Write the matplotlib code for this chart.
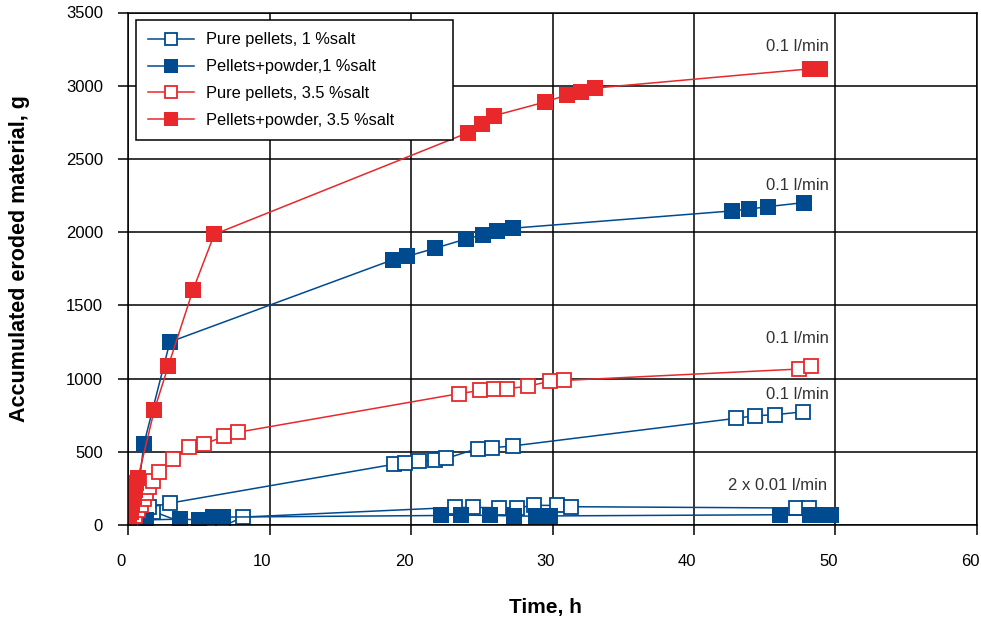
import matplotlib
matplotlib.use('Agg')
import matplotlib.pyplot as plt
import matplotlib.transforms as mtransforms

plt.rcParams['font.family'] = ['Liberation Sans', 'DejaVu Sans']

BLUE = '#004A8F'
RED = '#E8282B'

# ---- data (time in h, accumulated eroded material in g) ----
# Pure pellets, 1 %salt, 0.1 l/min
pure1_x = [0, 0.3, 0.8, 1.5, 3.0, 18.8, 19.6, 20.6, 21.7, 22.5, 24.7, 25.7, 27.2, 43.0, 44.3, 45.7, 47.7]
pure1_y = [0, 40, 80, 120, 150, 415, 425, 435, 445, 455, 522, 527, 540, 729, 746, 753, 773]
# Pure pellets, 1 %salt, 2 x 0.01 l/min
pure1_low_x = [0, 0.8, 1.8, 5.0, 6.7, 8.1, 23.1, 24.4, 26.2, 27.5, 28.7, 30.3, 31.3, 47.2, 48.1]
pure1_low_y = [0, 90, 92, -25, -10, 54, 120, 120, 118, 118, 134, 134, 125, 116, 116]

# Pellets+powder, 1 %salt, 0.1 l/min
pp1_x = [0, 0.1, 0.3, 0.5, 0.7, 1.13, 2.96, 18.7, 19.7, 21.7, 23.9, 25.1, 26.1, 27.2, 42.7, 43.9, 45.2, 47.8]
pp1_y = [0, 30, 80, 150, 220, 556, 1250, 1811, 1834, 1890, 1954, 1982, 2009, 2027, 2145, 2157, 2174, 2202]
# Pellets+powder, 1 %salt, 2 x 0.01 l/min
pp1_low_x = [0, 1.3, 3.7, 5.0, 6.0, 6.7, 22.1, 23.5, 25.6, 27.3, 28.8, 29.8, 46.1, 48.2, 48.9, 49.7]
pp1_low_y = [0, 35, 40, 35, 54, 54, 65, 68, 65, 62, 60, 62, 70, 68, 68, 68]

# Pure pellets, 3.5 %salt, 0.1 l/min
pure35_x = [0, 0.3, 0.5, 0.7, 0.9, 1.1, 1.3, 1.5, 1.8, 2.2, 3.2, 4.3, 5.4, 6.8, 7.8,
            23.4, 24.9, 25.9, 26.8, 28.3, 29.8, 30.8, 47.4, 48.3]
pure35_y = [0, 30, 60, 100, 140, 180, 220, 260, 300, 365, 450, 530, 553, 606, 634,
            897, 919, 926, 931, 948, 982, 987, 1065, 1087]

# Pellets+powder, 3.5 %salt, 0.1 l/min
pp35_x = [0, 0.1, 0.2, 0.3, 0.4, 0.5, 0.6, 0.7, 1.86, 2.85, 4.6, 6.1,
          24.0, 25.05, 25.9, 29.5, 31.0, 32.0, 33.0, 48.2, 48.9]
pp35_y = [0, 40, 90, 140, 190, 240, 290, 320, 785, 1087, 1607, 1985,
          2678, 2737, 2796, 2889, 2937, 2960, 2984, 3115, 3115]

legend_labels = ['Pure pellets, 1 %salt', 'Pellets+powder,1 %salt',
                 'Pure pellets, 3.5 %salt', 'Pellets+powder, 3.5 %salt']

notes = ['0.1 l/min', '0.1 l/min', '0.1 l/min', '0.1 l/min', '2 x 0.01 l/min']
notes_x = [47.3, 47.3, 47.3, 47.3, 45.9]
notes_y = [3265, 2320, 1272, 890, 268]

x_ticks = [0, 10, 20, 30, 40, 50, 60]
y_ticks = [0, 500, 1000, 1500, 2000, 2500, 3000, 3500]

# ---- figure ----
fig = plt.figure(figsize=(9.81, 6.24), dpi=100)
ax = fig.add_axes([128 / 981, (624 - 525) / 624, (977 - 128) / 981, (525 - 12.5) / 624])

open_kw = dict(marker='s', markersize=10.5, markerfacecolor='white', markeredgewidth=1.3, linewidth=1.1)
fill_kw = dict(marker='s', markersize=11.8, markeredgewidth=0, linewidth=1.1)

ax.plot(pure1_low_x, pure1_low_y, color=BLUE, markeredgecolor=BLUE, label='_nolegend_', **open_kw)
h1, = ax.plot(pure1_x, pure1_y, color=BLUE, markeredgecolor=BLUE, label=legend_labels[0], **open_kw)
ax.plot(pp1_low_x, pp1_low_y, color=BLUE, markerfacecolor=BLUE, label='_nolegend_', **fill_kw)
h2, = ax.plot(pp1_x, pp1_y, color=BLUE, markerfacecolor=BLUE, label=legend_labels[1], **fill_kw)
h3, = ax.plot(pure35_x, pure35_y, color=RED, markeredgecolor=RED, label=legend_labels[2], **open_kw)
h4, = ax.plot(pp35_x, pp35_y, color=RED, markerfacecolor=RED, label=legend_labels[3], **fill_kw)

for t, x, y in zip(notes, notes_x, notes_y):
    ax.text(x, y, t, ha='center', va='center', fontsize=12, color='#333333')

ax.set_xlim(0, 60)
ax.set_ylim(0, 3500)
ax.set_xticks(x_ticks)
ax.set_yticks(y_ticks)
ax.grid(True, color='black', linewidth=1.1)
ax.set_axisbelow(True)
for s in ax.spines.values():
    s.set_color('black')
    s.set_linewidth(1.1)
ax.tick_params(axis='both', direction='out', length=7, width=1.1, labelsize=12, colors='black')
ax.tick_params(axis='y', pad=11)
ax.tick_params(axis='x', pad=14)

# shift x tick labels slightly left, as in the reference
shift = mtransforms.ScaledTranslation(-7 / 100, 0, fig.dpi_scale_trans)
for lab in ax.get_xticklabels():
    lab.set_transform(lab.get_transform() + shift)

ax.set_xlabel('Time, h', fontsize=15, fontweight='bold', labelpad=21)
ax.set_ylabel('Accumulated eroded material, g', fontsize=15.5, fontweight='bold', labelpad=26)
ax.xaxis.label.set_x(0.492)
ax.yaxis.label.set_y(0.52)

leg = ax.legend(handles=[h1, h2, h3, h4], loc='upper left',
                bbox_to_anchor=(0.0094, 0.75, 0.3733, 0.235), mode='expand',
                borderaxespad=0, fontsize=11.8, frameon=True, fancybox=False, framealpha=1,
                edgecolor='black', handlelength=2.8, handletextpad=0.7, labelspacing=0.72,
                borderpad=0.75, markerscale=0.85)
leg.get_frame().set_linewidth(1.1)

fig.savefig('out.png', dpi=100)
